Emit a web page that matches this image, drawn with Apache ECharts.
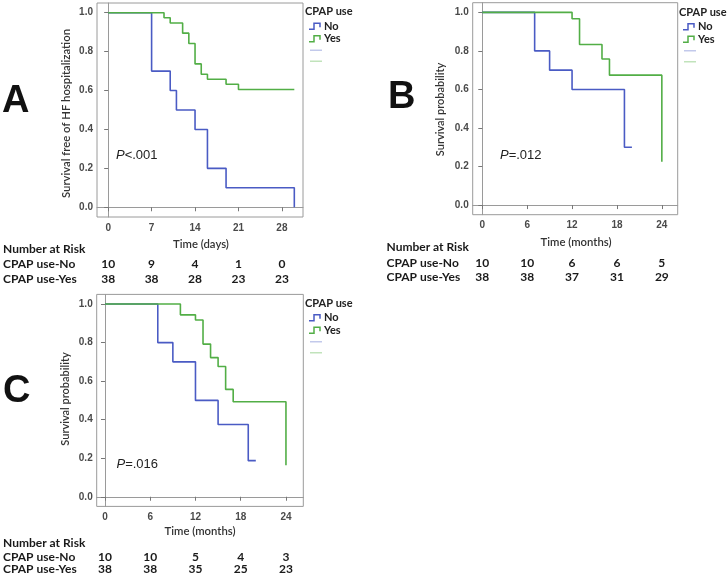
<!DOCTYPE html>
<html><head><meta charset="utf-8">
<script src="https://cdn.jsdelivr.net/npm/echarts@6/dist/echarts.min.js"></script>
<style>html,body{margin:0;padding:0;background:#fff}#c{width:728px;height:577px}</style>
</head><body><div id="c"></div>
<script>
// ---------- Panel A (days) ----------
const timeNoA = [0, 7, 10, 11, 14, 16, 19, 30];
const survNoA = [1, 0.7, 0.6, 0.5, 0.4, 0.2, 0.1, 0.0];
const timeYesA = [0, 9, 10, 12, 13, 14, 15, 16, 19, 21, 30];
const survYesA = [1, 0.974, 0.947, 0.895, 0.842, 0.737, 0.684, 0.658, 0.632, 0.605, 0.605];
const ticksA = [0, 7, 14, 21, 28];
const riskNoA = [10, 9, 4, 1, 0];
const riskYesA = [38, 38, 28, 23, 23];
// ---------- Panel B (months) ----------
const timeNoB = [0, 7, 9, 12, 19, 20];
const survNoB = [1, 0.8, 0.7, 0.6, 0.3, 0.3];
const timeYesB = [0, 12, 13, 16, 17, 24];
const survYesB = [1, 0.967, 0.833, 0.758, 0.674, 0.225];
const ticksB = [0, 6, 12, 18, 24];
const riskNoB = [10, 10, 6, 6, 5];
const riskYesB = [38, 38, 37, 31, 29];
// ---------- Panel C (months) ----------
const timeNoC = [0, 7, 9, 12, 15, 19, 20];
const survNoC = [1, 0.8, 0.7, 0.5, 0.375, 0.1875, 0.1875];
const timeYesC = [0, 10, 12, 13, 14, 15, 16, 17, 24];
const survYesC = [1, 0.944, 0.917, 0.792, 0.722, 0.676, 0.557, 0.493, 0.164];
const ticksC = [0, 6, 12, 18, 24];
const riskNoC = [10, 10, 5, 4, 3];
const riskYesC = [38, 38, 35, 25, 23];
const yTicks = [0, 0.2, 0.4, 0.6, 0.8, 1.0];

const BLUE = '#4a5bc4', GREEN = '#52ae46', LBLUE = '#b3bce6', LGREEN = '#b2dcaa';
const AX = '#9a9a9a';
const chart = echarts.init(document.getElementById('c'));

const grids = [
  {left: 97, top: 3, width: 206, height: 214, xmin: -1.8, xmax: 31.4, ticks: ticksA},
  {left: 472.7, top: 2.7, width: 205, height: 212, xmin: -1.28, xmax: 26.12, ticks: ticksB},
  {left: 96.7, top: 294.4, width: 206.6, height: 212, xmin: -1.1, xmax: 26.3, ticks: ticksC}
];
function pairs(t, s) { return t.map((v, i) => [v, s[i]]); }
const lblStyle = {fontFamily: 'Liberation Sans', fontSize: 10, fontWeight: 'bold', color: '#4a4a4a'};

const option = {
  animation: false,
  grid: grids.map(g => ({left: g.left, top: g.top, width: g.width, height: g.height, show: true,
    borderColor: AX, borderWidth: 1, backgroundColor: 'transparent'})),
  xAxis: grids.map((g, i) => ({type: 'value', gridIndex: i, min: g.xmin, max: g.xmax,
    axisLine: {show: true, lineStyle: {color: AX}},
    axisTick: {show: true, length: 4, customValues: g.ticks, lineStyle: {color: '#777'}},
    axisLabel: Object.assign({customValues: g.ticks, margin: 6}, lblStyle),
    splitLine: {show: false}})),
  yAxis: grids.map((g, i) => ({type: 'value', gridIndex: i, min: -0.05, max: 1.05,
    axisLine: {show: true, lineStyle: {color: AX}},
    axisTick: {show: true, length: 4, customValues: yTicks, lineStyle: {color: '#777'}},
    axisLabel: Object.assign({customValues: yTicks, margin: 4, formatter: v => v.toFixed(1)}, lblStyle),
    splitLine: {show: false}})),
  series: [
    [timeNoA, survNoA, 0, BLUE], [timeYesA, survYesA, 0, GREEN],
    [timeNoB, survNoB, 1, BLUE], [timeYesB, survYesB, 1, GREEN],
    [timeNoC, survNoC, 2, BLUE], [timeYesC, survYesC, 2, GREEN]
  ].map(([t, s, k, c]) => ({type: 'line', step: 'end', xAxisIndex: k, yAxisIndex: k,
    data: pairs(t, s), showSymbol: false, symbol: 'none',
    lineStyle: {color: c, width: 1.6}}))
};
chart.setOption(option);

const g = [];
function txt(text, x, y, o) {
  g.push({type: 'text', x: x, y: y, rotation: (o && o.rot) || 0, silent: true,
    style: Object.assign({text: text, fontFamily: 'Lato', fontSize: 11, fill: '#333',
      align: 'left', verticalAlign: 'middle'}, o || {})});
}
// big letters
txt('A', 2, 102, {fontFamily: 'Liberation Sans', fontSize: 38, fontWeight: 'bold', fill: '#111'});
txt('B', 388, 98, {fontFamily: 'Liberation Sans', fontSize: 38, fontWeight: 'bold', fill: '#111'});
txt('C', 3, 392, {fontFamily: 'Liberation Sans', fontSize: 38, fontWeight: 'bold', fill: '#111'});
// y titles
txt('Survival free of HF hospitalization', 66, 113.5, {align: 'center', rot: Math.PI / 2, fontSize: 11.3, fontWeight: 600});
txt('Survival probability', 440, 109.5, {align: 'center', rot: Math.PI / 2, fontSize: 11, fontWeight: 600});
txt('Survival probability', 65, 399, {align: 'center', rot: Math.PI / 2, fontSize: 11, fontWeight: 600});
// x titles
txt('Time (days)', 201, 244, {align: 'center', fontSize: 11.3, fontWeight: 600});
txt('Time (months)', 576, 242.7, {align: 'center', fontSize: 11.3, fontWeight: 600});
txt('Time (months)', 200, 531.7, {align: 'center', fontSize: 11.3, fontWeight: 600});
// P values
const rich = {i: {fontFamily: 'Liberation Sans', fontSize: 13, fontStyle: 'italic', fill: '#222'},
              n: {fontFamily: 'Liberation Sans', fontSize: 13, fill: '#222'}};
txt('{i|P}{n|<.001}', 116, 155, {rich: rich});
txt('{i|P}{n|=.012}', 500, 155, {rich: rich});
txt('{i|P}{n|=.016}', 116.5, 464.3, {rich: rich});
// legends
function legend(x, y) {
  txt('CPAP use', x, y, {fontSize: 11, fontWeight: 'bold', fill: '#222'});
  [[BLUE, 'No', y + 14.5], [GREEN, 'Yes', y + 27]].forEach(([c, l, yy]) => {
    g.push({type: 'polyline', silent: true, shape: {points: [[x + 4, yy + 3], [x + 9, yy + 3], [x + 9, yy - 3], [x + 15, yy - 3], [x + 15, yy + 1]]},
      style: {stroke: c, lineWidth: 1.5, fill: null}});
    txt(l, x + 19, yy, {fontSize: 11, fontWeight: 'bold', fill: '#222'});
  });
  g.push({type: 'line', silent: true, shape: {x1: x + 5, y1: y + 38.5, x2: x + 17, y2: y + 38.5}, style: {stroke: LBLUE, lineWidth: 1.2}});
  g.push({type: 'line', silent: true, shape: {x1: x + 5, y1: y + 49.5, x2: x + 17, y2: y + 49.5}, style: {stroke: LGREEN, lineWidth: 1.2}});
}
legend(305, 11.7);
legend(679, 12.3);
legend(305, 303.3);
// number at risk tables
function table(k, ticks, no, yes, lx, y0, y1, y2) {
  const f = {fontSize: 12, fontWeight: 'bold', fill: '#1a1a1a'};
  txt('Number at Risk', lx, y0, f);
  txt('CPAP use-No', lx, y1, f);
  txt('CPAP use-Yes', lx, y2, f);
  ticks.forEach((t, i) => {
    const px = chart.convertToPixel({xAxisIndex: k}, t);
    txt(String(no[i]), px, y1, Object.assign({align: 'center'}, f));
    txt(String(yes[i]), px, y2, Object.assign({align: 'center'}, f));
  });
}
table(0, ticksA, riskNoA, riskYesA, 3, 249, 264.3, 279.3);
table(1, ticksB, riskNoB, riskYesB, 386.5, 246.7, 263.3, 276.7);
table(2, ticksC, riskNoC, riskYesC, 3, 543.3, 556.7, 569.3);

chart.setOption({graphic: g});
</script></body></html>
